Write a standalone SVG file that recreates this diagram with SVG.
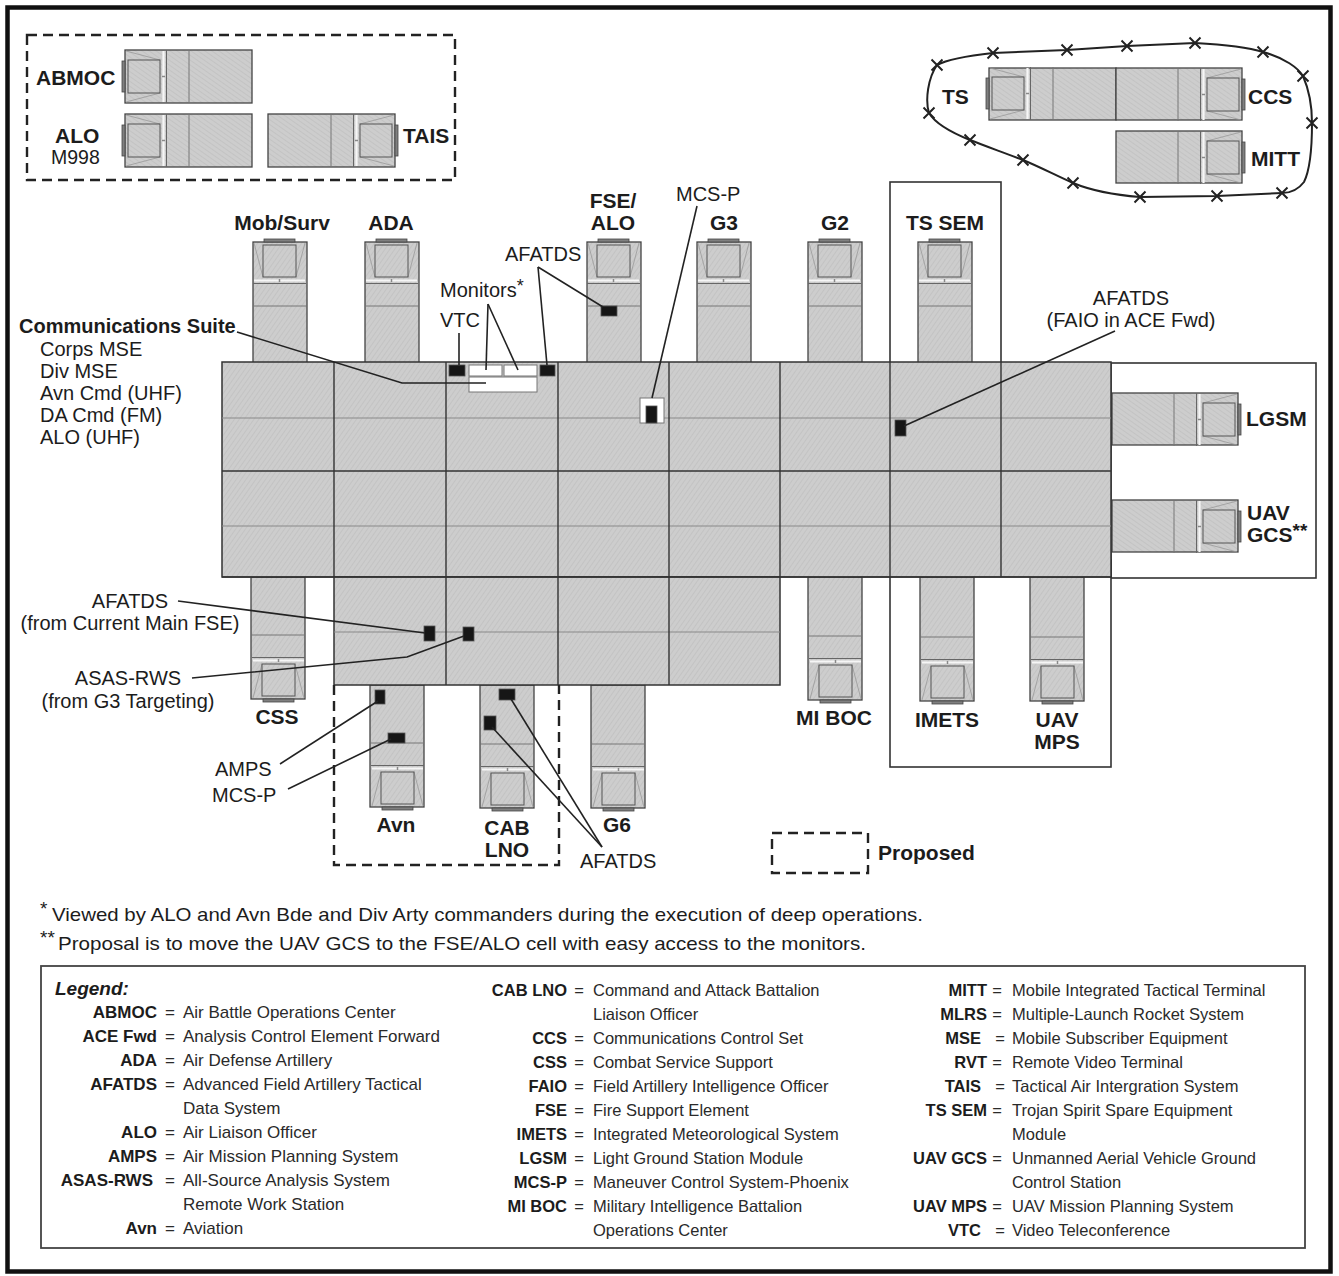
<svg xmlns="http://www.w3.org/2000/svg" xmlns:xlink="http://www.w3.org/1999/xlink" width="1339" height="1276" viewBox="0 0 1339 1276">
<defs>
<pattern id="hatch" width="4" height="4" patternUnits="userSpaceOnUse" patternTransform="rotate(35)">
<rect width="4" height="4" fill="#cdcdcd"/>
<line x1="0" y1="0" x2="0" y2="4" stroke="#bfbfbf" stroke-width="1.4"/>
</pattern>
<g id="cab">
<rect x="11" y="-3" width="31" height="3" fill="#808080" stroke="#444" stroke-width="0.8"/>
<line x1="1" y1="1" x2="10" y2="35" stroke="#999" stroke-width="0.8"/>
<line x1="52" y1="1" x2="43" y2="35" stroke="#999" stroke-width="0.8"/>
<rect x="10" y="3" width="33" height="32" fill="none" stroke="#555" stroke-width="1"/>
<line x1="1" y1="38.5" x2="52" y2="38.5" stroke="#f6f6f6" stroke-width="2.2"/>
<line x1="26.5" y1="37" x2="26.5" y2="40" stroke="#888" stroke-width="1.5"/>
<line x1="0" y1="41.5" x2="53" y2="41.5" stroke="#666" stroke-width="1"/>
<line x1="0" y1="64" x2="53" y2="64" stroke="#777" stroke-width="1"/>
</g>
<path id="xm" d="M-5.5,-5.5 L5.5,5.5 M-5.5,5.5 L5.5,-5.5" stroke="#222" stroke-width="2" fill="none"/>
</defs>
<style>
.veh{fill:url(#hatch);stroke:#444;stroke-width:1.3}
.blk{fill:url(#hatch);stroke:#333;stroke-width:1.5}
.col{stroke:#333;stroke-width:1.4}
.thin{stroke:#8a8a8a;stroke-width:1.1}
.outl{fill:#fff;stroke:#333;stroke-width:1.6}
.dash{fill:none;stroke:#222;stroke-width:2.4;stroke-dasharray:10,6}
.sq{fill:#161616;stroke:#555;stroke-width:0.8}
.mon{fill:#fff;stroke:#777;stroke-width:1}
.ld{fill:none;stroke:#222;stroke-width:1.6}
.lb{font-family:"Liberation Sans",Arial,sans-serif;font-weight:bold;font-size:21px;fill:#1c1c1c}
.lr{font-family:"Liberation Sans",Arial,sans-serif;font-size:20px;fill:#1c1c1c}
.fn{font-family:"Liberation Sans",Arial,sans-serif;font-size:19px;fill:#1c1c1c}
.ab{font-family:"Liberation Sans",Arial,sans-serif;font-weight:bold;font-size:17px;fill:#1c1c1c}
.ds{font-family:"Liberation Sans",Arial,sans-serif;font-size:17px;fill:#2a2a2a}
.ds2{font-family:"Liberation Sans",Arial,sans-serif;font-size:16.5px;fill:#2a2a2a}
.ab2{font-family:"Liberation Sans",Arial,sans-serif;font-weight:bold;font-size:16.5px;fill:#1c1c1c}
.e{text-anchor:middle}
.r{text-anchor:end}
.m{text-anchor:middle}
</style>
<rect width="1339" height="1276" fill="#fff"/>
<rect x="7.5" y="7.5" width="1323" height="1264" fill="none" stroke="#111" stroke-width="4.5"/>

<!-- proposed region outline top-left -->
<rect id="proposed-top" x="27" y="35" width="428" height="145" class="dash"/>

<!-- outline rooms -->
<g id="rooms">
<rect x="890" y="182" width="111" height="200" class="outl"/>
<rect x="1111" y="363" width="205" height="215" class="outl"/>
<rect x="890" y="560" width="221" height="207" class="outl"/>
</g>

<!-- perimeter fence -->
<g id="perimeter">
<path d="M937,65 C950,58 975,55 993,53 L1067,50 L1127,46 L1195,43 C1230,45 1250,48 1263,52 C1285,58 1298,68 1303,76 C1310,92 1312,108 1312,123 C1312,150 1310,170 1304,182 C1298,190 1290,193 1282,193 L1217,196 L1140,197 C1115,195 1090,190 1073,183 C1055,175 1040,167 1023,160 C1005,153 985,146 970,140 C950,132 935,123 929,113 C925,100 928,78 937,65 Z" fill="none" stroke="#222" stroke-width="2"/>
<use href="#xm" x="937" y="65"/><use href="#xm" x="993" y="53"/><use href="#xm" x="1067" y="50"/>
<use href="#xm" x="1127" y="46"/><use href="#xm" x="1195" y="43"/><use href="#xm" x="1263" y="52"/>
<use href="#xm" x="1303" y="76"/><use href="#xm" x="1312" y="123"/><use href="#xm" x="1282" y="193"/>
<use href="#xm" x="1217" y="196"/><use href="#xm" x="1140" y="197"/><use href="#xm" x="1073" y="183"/>
<use href="#xm" x="1023" y="160"/><use href="#xm" x="970" y="140"/><use href="#xm" x="929" y="113"/>
</g>

<!-- vehicles -->
<g id="v-abmoc" transform="translate(125,103) rotate(-90)"><rect class="veh" width="53" height="127"/><use href="#cab"/></g>
<g id="v-alo" transform="translate(125,167) rotate(-90)"><rect class="veh" width="53" height="127"/><use href="#cab"/></g>
<g id="v-tais" transform="translate(395,114) rotate(90)"><rect class="veh" width="53" height="127"/><use href="#cab"/></g>
<g id="v-ts" transform="translate(989,120) rotate(-90)"><rect class="veh" width="52" height="127"/><use href="#cab"/></g>
<g id="v-ccs" transform="translate(1242,68) rotate(90)"><rect class="veh" width="52" height="126"/><use href="#cab"/></g>
<g id="v-mitt" transform="translate(1242,131) rotate(90)"><rect class="veh" width="52" height="126"/><use href="#cab"/></g>
<g id="v-lgsm" transform="translate(1238,393) rotate(90)"><rect class="veh" width="52" height="126"/><use href="#cab"/></g>
<g id="v-uavgcs" transform="translate(1238,500) rotate(90)"><rect class="veh" width="52" height="126"/><use href="#cab"/></g>

<g id="v-mobsurv" transform="translate(253,242)"><rect class="veh" width="54" height="121"/><use href="#cab"/></g>
<g id="v-ada" transform="translate(365,242)"><rect class="veh" width="54" height="121"/><use href="#cab"/></g>
<g id="v-fsealo" transform="translate(587,242)"><rect class="veh" width="54" height="121"/><use href="#cab"/></g>
<g id="v-g3" transform="translate(697,242)"><rect class="veh" width="54" height="121"/><use href="#cab"/></g>
<g id="v-g2" transform="translate(808,242)"><rect class="veh" width="54" height="121"/><use href="#cab"/></g>
<g id="v-tssem" transform="translate(918,242)"><rect class="veh" width="54" height="121"/><use href="#cab"/></g>

<g id="v-css" transform="translate(305,699) rotate(180)"><rect class="veh" width="54" height="122"/><use href="#cab"/></g>
<g id="v-miboc" transform="translate(862,700) rotate(180)"><rect class="veh" width="54" height="123"/><use href="#cab"/></g>
<g id="v-imets" transform="translate(974,701) rotate(180)"><rect class="veh" width="54" height="124"/><use href="#cab"/></g>
<g id="v-uavmps" transform="translate(1084,701) rotate(180)"><rect class="veh" width="54" height="124"/><use href="#cab"/></g>
<g id="v-avn" transform="translate(424,807) rotate(180)"><rect class="veh" width="54" height="122"/><use href="#cab"/></g>
<g id="v-cablno" transform="translate(534,808) rotate(180)"><rect class="veh" width="54" height="123"/><use href="#cab"/></g>
<g id="v-g6" transform="translate(645,808) rotate(180)"><rect class="veh" width="54" height="123"/><use href="#cab"/></g>

<!-- main tent complex -->
<g id="main-block">
<rect x="222" y="362" width="889" height="215" class="blk"/>
<rect x="334" y="577" width="446" height="108" class="blk"/>
<line x1="222" y1="418" x2="1111" y2="418" class="thin"/>
<line x1="222" y1="526" x2="1111" y2="526" class="thin"/>
<line x1="334" y1="632" x2="780" y2="632" class="thin"/>
<line x1="222" y1="471" x2="1111" y2="471" class="col"/>
<line x1="334" y1="362" x2="334" y2="577" class="col"/>
<line x1="446" y1="362" x2="446" y2="685" class="col"/>
<line x1="558" y1="362" x2="558" y2="685" class="col"/>
<line x1="669" y1="362" x2="669" y2="685" class="col"/>
<line x1="780" y1="362" x2="780" y2="577" class="col"/>
<line x1="890" y1="362" x2="890" y2="577" class="col"/>
<line x1="1001" y1="362" x2="1001" y2="577" class="col"/>
<line x1="222" y1="577" x2="1111" y2="577" class="col"/>
</g>

<!-- proposed outline bottom -->
<path id="proposed-bottom" d="M334,685 V865 H559 V685" class="dash"/>
<rect id="proposed-key" x="772" y="833" width="96" height="40" class="dash"/>

<!-- equipment -->
<g id="equipment">
<rect x="469" y="365" width="33" height="11" class="mon"/>
<rect x="504" y="365" width="33" height="11" class="mon"/>
<rect x="469" y="377" width="68" height="15" class="mon"/>
<rect x="449" y="365" width="16" height="11" class="sq"/>
<rect x="540" y="365" width="15" height="11" class="sq"/>
<rect x="601" y="306" width="16" height="10" class="sq"/>
<rect x="640" y="398" width="24" height="25" fill="#fff" stroke="#777" stroke-width="1"/>
<rect x="646" y="406" width="11" height="17" class="sq"/>
<rect x="895" y="420" width="11" height="16" class="sq"/>
<rect x="424" y="626" width="11" height="15" class="sq"/>
<rect x="463" y="627" width="11" height="14" class="sq"/>
<rect x="375" y="690" width="10" height="14" class="sq"/>
<rect x="388" y="733" width="17" height="10" class="sq"/>
<rect x="499" y="689" width="16" height="11" class="sq"/>
<rect x="484" y="716" width="12" height="14" class="sq"/>
</g>

<!-- connectors -->
<g id="connectors">
<polyline points="237,332 402,383 486,383" class="ld"/>
<line x1="459" y1="333" x2="459" y2="365" class="ld"/>
<line x1="488" y1="304" x2="486" y2="370" class="ld"/>
<line x1="488" y1="304" x2="518" y2="370" class="ld"/>
<line x1="538" y1="267" x2="547" y2="365" class="ld"/>
<line x1="538" y1="267" x2="603" y2="307" class="ld"/>
<line x1="697" y1="206" x2="652" y2="398" class="ld"/>
<line x1="1115" y1="331" x2="904" y2="426" class="ld"/>
<line x1="178" y1="601" x2="425" y2="633" class="ld"/>
<polyline points="192,678 407,657 464,636" class="ld"/>
<line x1="280" y1="764" x2="378" y2="701" class="ld"/>
<line x1="288" y1="789" x2="391" y2="739" class="ld"/>
<line x1="602" y1="847" x2="511" y2="699" class="ld"/>
<line x1="602" y1="847" x2="492" y2="727" class="ld"/>
</g>

<!-- labels -->
<g id="labels">
<text x="36" y="85" class="lb">ABMOC</text>
<text x="55" y="143" class="lb">ALO</text>
<text x="51" y="164" class="lr" style="font-size:19.5px">M998</text>
<text x="403" y="143" class="lb">TAIS</text>
<text x="942" y="104" class="lb">TS</text>
<text x="1248" y="104" class="lb">CCS</text>
<text x="1251" y="166" class="lb">MITT</text>
<text x="1246" y="426" class="lb">LGSM</text>
<text x="1247" y="520" class="lb">UAV</text>
<text x="1247" y="542" class="lb">GCS<tspan dy="-5" font-size="19">**</tspan></text>

<text x="282" y="230" class="lb m">Mob/Surv</text>
<text x="391" y="230" class="lb m">ADA</text>
<text x="613" y="208" class="lb m">FSE/</text>
<text x="613" y="230" class="lb m">ALO</text>
<text x="724" y="230" class="lb m">G3</text>
<text x="835" y="230" class="lb m">G2</text>
<text x="945" y="230" class="lb m">TS SEM</text>

<text x="277" y="724" class="lb m">CSS</text>
<text x="834" y="725" class="lb m">MI BOC</text>
<text x="947" y="727" class="lb m">IMETS</text>
<text x="1057" y="727" class="lb m">UAV</text>
<text x="1057" y="749" class="lb m">MPS</text>
<text x="396" y="832" class="lb m">Avn</text>
<text x="507" y="835" class="lb m">CAB</text>
<text x="507" y="857" class="lb m">LNO</text>
<text x="617" y="832" class="lb m">G6</text>
<text x="878" y="860" class="lb">Proposed</text>

<text x="676" y="201" class="lr">MCS-P</text>
<text x="505" y="261" class="lr">AFATDS</text>
<text x="440" y="297" class="lr">Monitors<tspan dy="-5" font-size="18">*</tspan></text>
<text x="440" y="327" class="lr">VTC</text>
<text x="1131" y="305" class="lr m">AFATDS</text>
<text x="1131" y="327" class="lr m">(FAIO in ACE Fwd)</text>

<text x="19" y="333" class="lb" style="font-size:20px">Communications Suite</text>
<text x="40" y="356" class="lr">Corps MSE</text>
<text x="40" y="378" class="lr">Div MSE</text>
<text x="40" y="400" class="lr">Avn Cmd (UHF)</text>
<text x="40" y="422" class="lr">DA Cmd (FM)</text>
<text x="40" y="444" class="lr">ALO (UHF)</text>

<text x="130" y="608" class="lr m">AFATDS</text>
<text x="130" y="630" class="lr m">(from Current Main FSE)</text>
<text x="128" y="685" class="lr m">ASAS-RWS</text>
<text x="128" y="708" class="lr m">(from G3 Targeting)</text>
<text x="215" y="776" class="lr">AMPS</text>
<text x="212" y="802" class="lr">MCS-P</text>
<text x="580" y="868" class="lr">AFATDS</text>
</g>

<!-- footnotes -->
<g id="footnotes">
<text x="40" y="915" class="fn">*</text>
<text x="52" y="921" class="fn" textLength="871" lengthAdjust="spacingAndGlyphs">Viewed by ALO and Avn Bde and Div Arty commanders during the execution of deep operations.</text>
<text x="40" y="944" class="fn">**</text>
<text x="58" y="950" class="fn" textLength="808" lengthAdjust="spacingAndGlyphs">Proposal is to move the UAV GCS to the FSE/ALO cell with easy access to the monitors.</text>
</g>

<!-- legend -->
<g id="legend">
<rect x="41" y="966" width="1264" height="282" fill="none" stroke="#444" stroke-width="1.8"/>
<text x="55" y="995" style="font-family:'Liberation Sans',Arial,sans-serif;font-weight:bold;font-style:italic;font-size:19px;fill:#1c1c1c">Legend:</text>

<text x="157" y="1018" class="ab r">ABMOC</text><text x="170" y="1018" class="ds m">=</text><text x="183" y="1018" class="ds">Air Battle Operations Center</text>
<text x="157" y="1042" class="ab r">ACE Fwd</text><text x="170" y="1042" class="ds m">=</text><text x="183" y="1042" class="ds">Analysis Control Element Forward</text>
<text x="157" y="1066" class="ab r">ADA</text><text x="170" y="1066" class="ds m">=</text><text x="183" y="1066" class="ds">Air Defense Artillery</text>
<text x="157" y="1090" class="ab r">AFATDS</text><text x="170" y="1090" class="ds m">=</text><text x="183" y="1090" class="ds">Advanced Field Artillery Tactical</text>
<text x="183" y="1114" class="ds">Data System</text>
<text x="157" y="1138" class="ab r">ALO</text><text x="170" y="1138" class="ds m">=</text><text x="183" y="1138" class="ds">Air Liaison Officer</text>
<text x="157" y="1162" class="ab r">AMPS</text><text x="170" y="1162" class="ds m">=</text><text x="183" y="1162" class="ds">Air Mission Planning System</text>
<text x="153" y="1186" class="ab r">ASAS-RWS</text><text x="170" y="1186" class="ds m">=</text><text x="183" y="1186" class="ds">All-Source Analysis System</text>
<text x="183" y="1210" class="ds">Remote Work Station</text>
<text x="157" y="1234" class="ab r">Avn</text><text x="170" y="1234" class="ds m">=</text><text x="183" y="1234" class="ds">Aviation</text>

<text x="567" y="996" class="ab2 r">CAB LNO</text><text x="579" y="996" class="ds2 m">=</text><text x="593" y="996" class="ds2">Command and Attack Battalion</text>
<text x="593" y="1020" class="ds2">Liaison Officer</text>
<text x="567" y="1044" class="ab2 r">CCS</text><text x="579" y="1044" class="ds2 m">=</text><text x="593" y="1044" class="ds2">Communications Control Set</text>
<text x="567" y="1068" class="ab2 r">CSS</text><text x="579" y="1068" class="ds2 m">=</text><text x="593" y="1068" class="ds2">Combat Service Support</text>
<text x="567" y="1092" class="ab2 r">FAIO</text><text x="579" y="1092" class="ds2 m">=</text><text x="593" y="1092" class="ds2">Field Artillery Intelligence Officer</text>
<text x="567" y="1116" class="ab2 r">FSE</text><text x="579" y="1116" class="ds2 m">=</text><text x="593" y="1116" class="ds2">Fire Support Element</text>
<text x="567" y="1140" class="ab2 r">IMETS</text><text x="579" y="1140" class="ds2 m">=</text><text x="593" y="1140" class="ds2">Integrated Meteorological System</text>
<text x="567" y="1164" class="ab2 r">LGSM</text><text x="579" y="1164" class="ds2 m">=</text><text x="593" y="1164" class="ds2">Light Ground Station Module</text>
<text x="567" y="1188" class="ab2 r">MCS-P</text><text x="579" y="1188" class="ds2 m">=</text><text x="593" y="1188" class="ds2">Maneuver Control System-Phoenix</text>
<text x="567" y="1212" class="ab2 r">MI BOC</text><text x="579" y="1212" class="ds2 m">=</text><text x="593" y="1212" class="ds2">Military Intelligence Battalion</text>
<text x="593" y="1236" class="ds2">Operations Center</text>

<text x="987" y="996" class="ab2 r">MITT</text><text x="997" y="996" class="ds2 m">=</text><text x="1012" y="996" class="ds2">Mobile Integrated Tactical Terminal</text>
<text x="987" y="1020" class="ab2 r">MLRS</text><text x="997" y="1020" class="ds2 m">=</text><text x="1012" y="1020" class="ds2">Multiple-Launch Rocket System</text>
<text x="981" y="1044" class="ab2 r">MSE</text><text x="1000" y="1044" class="ds2 m">=</text><text x="1012" y="1044" class="ds2">Mobile Subscriber Equipment</text>
<text x="987" y="1068" class="ab2 r">RVT</text><text x="997" y="1068" class="ds2 m">=</text><text x="1012" y="1068" class="ds2">Remote Video Terminal</text>
<text x="981" y="1092" class="ab2 r">TAIS</text><text x="1000" y="1092" class="ds2 m">=</text><text x="1012" y="1092" class="ds2">Tactical Air Intergration System</text>
<text x="987" y="1116" class="ab2 r">TS SEM</text><text x="997" y="1116" class="ds2 m">=</text><text x="1012" y="1116" class="ds2">Trojan Spirit Spare Equipment</text>
<text x="1012" y="1140" class="ds2">Module</text>
<text x="987" y="1164" class="ab2 r">UAV GCS</text><text x="997" y="1164" class="ds2 m">=</text><text x="1012" y="1164" class="ds2">Unmanned Aerial Vehicle Ground</text>
<text x="1012" y="1188" class="ds2">Control Station</text>
<text x="987" y="1212" class="ab2 r">UAV MPS</text><text x="997" y="1212" class="ds2 m">=</text><text x="1012" y="1212" class="ds2">UAV Mission Planning System</text>
<text x="981" y="1236" class="ab2 r">VTC</text><text x="1000" y="1236" class="ds2 m">=</text><text x="1012" y="1236" class="ds2">Video Teleconference</text>
</g>
</svg>
